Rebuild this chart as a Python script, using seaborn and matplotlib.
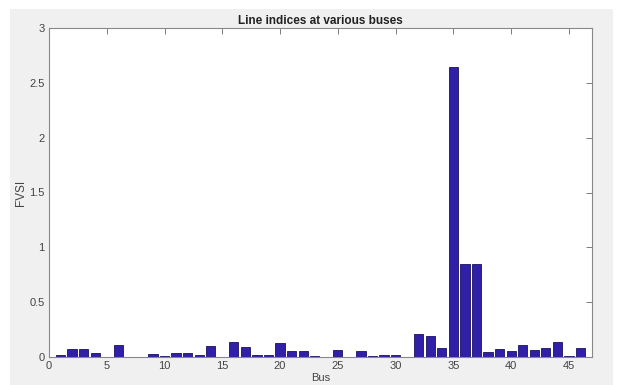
import matplotlib
matplotlib.use("Agg")
import matplotlib.pyplot as plt
import seaborn as sns
import pandas as pd
from matplotlib.patches import Rectangle

buses = list(range(1, 47))
fvsi = [0.02, 0.075, 0.075, 0.035, 0.0, 0.11, 0.0, 0.0, 0.027, 0.006,
        0.035, 0.04, 0.022, 0.10, 0.0, 0.14, 0.09, 0.02, 0.015, 0.128,
        0.052, 0.052, 0.013, 0.0, 0.064, 0.0, 0.058, 0.01, 0.02, 0.018,
        0.0, 0.21, 0.19, 0.085, 2.64, 0.85, 0.845, 0.05, 0.073, 0.058,
        0.11, 0.061, 0.079, 0.14, 0.008, 0.085]
xticks = [0, 5, 10, 15, 20, 25, 30, 35, 40, 45]
yticks = [0, 0.5, 1, 1.5, 2, 2.5, 3]
yticklabels = ["0", "0.5", "1", "1.5", "2", "2.5", "3"]

df = pd.DataFrame({"Bus": buses, "FVSI": fvsi})

sns.set_style("white")
plt.rcParams["font.family"] = ["Liberation Sans", "DejaVu Sans"]

fig = plt.figure(figsize=(6.2, 3.85), dpi=100, facecolor="white")
bg = Rectangle((10 / 620, 0), 603 / 620, (385 - 9) / 385,
               transform=fig.transFigure, facecolor="#f0f0f0",
               edgecolor="none", zorder=-10)
fig.add_artist(bg)
ax = fig.add_axes([49 / 620, (385 - 357) / 385, 543 / 620, 329 / 385])
ax.set_zorder(1)
ax.set_facecolor("white")

sns.barplot(data=df, x="Bus", y="FVSI", native_scale=True, ax=ax,
            color="#3020a8", saturation=1, width=0.8,
            edgecolor="#1a1060", linewidth=0.6)

ax.set_xlim(0, 47)
ax.set_ylim(0, 3)
ax.set_xticks(xticks)
ax.set_xticklabels([str(t) for t in xticks])
ax.set_yticks(yticks)
ax.set_yticklabels(yticklabels)
ax.tick_params(direction="in", length=4, width=0.6, colors="#666666",
               labelsize=8, labelcolor="#444444", top=True, right=True,
               labeltop=False, labelright=False, pad=3)
for s in ax.spines.values():
    s.set_visible(True)
    s.set_color("#888888")
    s.set_linewidth(0.8)

ax.set_title("Line indices at various buses", fontsize=8.5, fontweight="bold",
             color="#222222", pad=3)
ax.set_xlabel("Bus", fontsize=8, color="#444444", labelpad=1)
ax.set_ylabel("FVSI", fontsize=8.5, color="#444444", labelpad=2)

fig.savefig("out.png", dpi=100, facecolor=fig.get_facecolor())
